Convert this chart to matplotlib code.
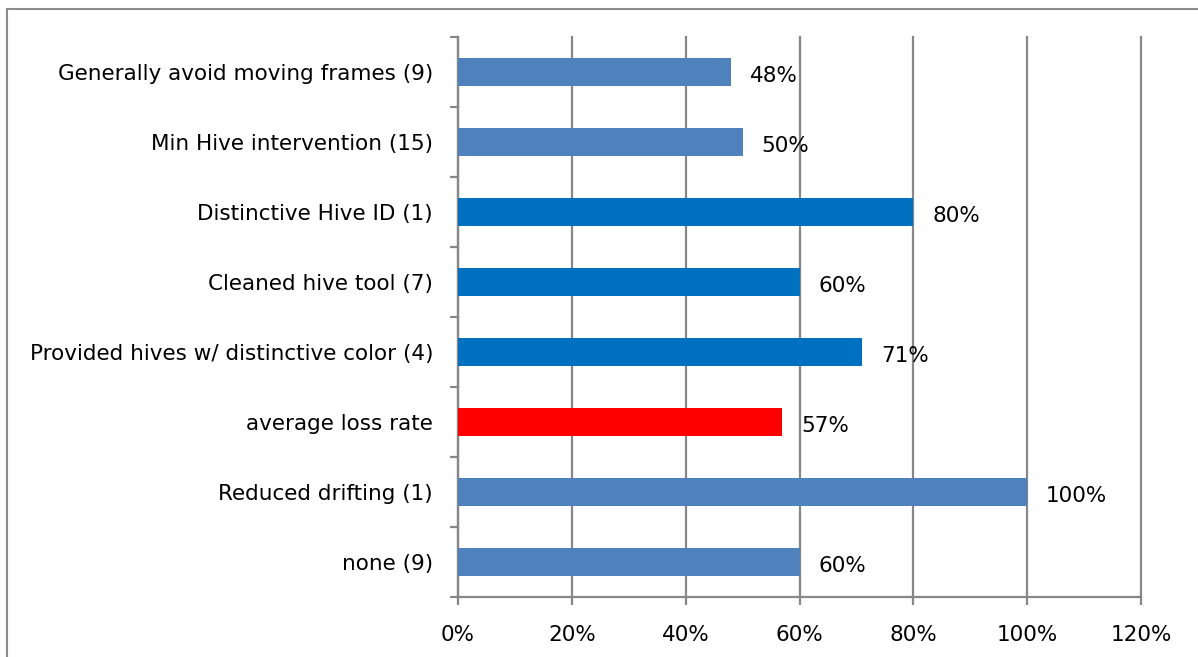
import matplotlib
matplotlib.use("Agg")
import matplotlib.pyplot as plt
from matplotlib.patches import Rectangle
from matplotlib.ticker import FixedLocator, FuncFormatter
import numpy as np

categories = [
    "Generally avoid moving frames (9)",
    "Min Hive intervention (15)",
    "Distinctive Hive ID (1)",
    "Cleaned hive tool (7)",
    "Provided hives w/ distinctive color (4)",
    "average loss rate",
    "Reduced drifting (1)",
    "none (9)",
]
loss_rates = [48, 50, 80, 60, 71, 57, 100, 60]
bar_colors = ["#4F81BD", "#4F81BD", "#0070C0", "#0070C0", "#0070C0",
              "#FF0000", "#4F81BD", "#4F81BD"]
x_ticks = [0, 20, 40, 60, 80, 100, 120]

grey = "#878787"

fig = plt.figure(figsize=(11.98, 6.57), dpi=100)
# chart area border
fig.patches.append(Rectangle((7 / 1198, -0.05), 1.1, 1 - 9 / 657 + 0.05,
                             transform=fig.transFigure, fill=False,
                             edgecolor="#8c8c8c", linewidth=1.5))

ax = fig.add_axes([458 / 1198, 1 - 597 / 657, (1141 - 458) / 1198, (597 - 37) / 657])

y = np.arange(len(categories))
ax.barh(y, loss_rates, height=0.4, color=bar_colors, zorder=3)

for yi, v in zip(y, loss_rates):
    ax.text(v + 3.3, yi + 0.05, f"{v}%", va="center", ha="left", fontsize=15.5)

ax.set_xlim(0, 120)
ax.set_ylim(len(categories) - 0.5, -0.5)

ax.xaxis.set_major_locator(FixedLocator(x_ticks))
ax.xaxis.set_major_formatter(FuncFormatter(lambda v, p: f"{v:.0f}%"))
ax.grid(axis="x", color=grey, linewidth=1.6, zorder=0)
for line in ax.get_xgridlines():
    line.set_clip_on(False)

ax.set_yticks(y)
ax.set_yticklabels(categories, fontsize=15.5)
ax.set_yticks(np.arange(len(categories) + 1) - 0.5, minor=True)
ax.tick_params(axis="y", which="major", length=0, pad=18)
ax.tick_params(axis="y", which="minor", length=6, width=1.6, color=grey)
ax.tick_params(axis="x", length=6, width=1.6, color=grey, pad=14, labelsize=15.5)

for side in ("top", "right"):
    ax.spines[side].set_visible(False)
for side in ("left", "bottom"):
    ax.spines[side].set_color(grey)
    ax.spines[side].set_linewidth(1.6)

fig.savefig("out.png", dpi=100)
